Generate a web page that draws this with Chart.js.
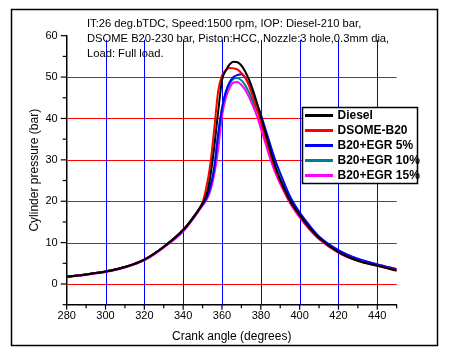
<!DOCTYPE html>
<html><head><meta charset="utf-8">
<script src="https://cdn.jsdelivr.net/npm/chart.js@4.4.1/dist/chart.umd.min.js"></script>
<style>html,body{margin:0;padding:0;background:#fff}</style>
</head><body>
<canvas id="c" width="452" height="356"></canvas>
<script>
// ---- data ----
const angles   = [280,290,300,310,320,330,340,345,350,352,354,356,358,360,362,364,366,368,370,372,374,376,378,380,382,384,386,388,390,395,400,405,410,420,430,440,450];
const diesel   = [1.8,2.3,3.0,4.1,5.9,9.0,13.1,16.0,19.5,21.5,26.0,33.0,41.5,49.2,51.6,53.1,53.7,53.6,52.8,51.3,49.3,46.8,43.8,40.5,37.2,33.8,30.5,27.6,25.2,20.2,16.7,13.6,11.1,7.7,5.6,4.4,3.2];
const dsomeB20 = [1.8,2.3,3.0,4.1,5.9,9.0,13.1,16.0,19.8,23.5,29.0,37.5,46.5,50.4,51.7,52.2,52.1,51.8,51.0,49.9,47.8,45.0,42.2,39.2,36.0,32.9,29.8,27.0,24.7,19.8,16.4,13.4,11.0,7.6,5.6,4.4,3.3];
const egr5     = [1.8,2.3,3.0,4.1,5.9,9.0,13.0,15.9,19.2,20.8,23.5,28.0,36.0,42.5,46.5,48.8,50.0,50.5,50.7,49.8,48.2,46.0,43.5,41.0,38.0,35.0,32.0,29.2,26.8,21.2,17.3,14.2,11.5,8.2,6.1,4.75,3.6];
const egr10    = [1.8,2.3,3.0,4.1,5.9,9.0,13.0,15.9,19.2,20.8,23.5,28.0,36.0,42.3,46.3,48.5,49.6,49.8,49.2,48.0,46.2,44.0,42.0,39.9,36.8,33.8,30.8,28.0,25.6,20.8,16.9,13.8,11.3,8.0,6.0,4.7,3.6];
const egr15    = [1.7,2.2,2.9,4.0,5.7,8.8,12.7,15.6,19.0,20.3,22.5,26.5,32.5,40.5,45.0,47.5,48.7,48.8,48.1,46.9,45.1,43.0,40.6,37.6,34.6,31.5,28.7,26.3,24.2,19.6,16.1,13.2,10.8,7.6,5.7,4.6,3.5];
const seriesNames  = ['Diesel','DSOME-B20','B20+EGR 5%','B20+EGR 10%','B20+EGR 15%'];
const seriesColors = ['#000000','#ff0000','#0000ff','#008080','#ff00ff'];
const xTickLabels = [280,300,320,340,360,380,400,420,440];
const yTickLabels = [0,10,20,30,40,50,60];
const noteLines = [
  'IT:26 deg.bTDC, Speed:1500 rpm, IOP: Diesel-210 bar,',
  'DSOME B20-230 bar, Piston:HCC, Nozzle:3 hole,0.3mm dia,',
  'Load: Full load.'
];
const xTitle = 'Crank angle (degrees)';
const yTitle = 'Cylinder pressure (bar)';

const allSeries = [diesel, dsomeB20, egr5, egr10, egr15];
const tickFont = {family:'"Liberation Sans", Arial, sans-serif', size:11};
const titleFont = {family:'"Liberation Sans", Arial, sans-serif', size:12};

const decor = {
  id:'decor',
  beforeDraw(chart){
    const ctx = chart.ctx;
    ctx.save();
    ctx.fillStyle='#fff'; ctx.fillRect(0,0,chart.width,chart.height);
    ctx.strokeStyle='#000'; ctx.lineWidth=1.5;
    ctx.strokeRect(11.5,9.5,426,336);
    ctx.restore();
  },
  beforeDatasetsDraw(chart){
    const {ctx, chartArea:a, scales:{x,y}} = chart;
    ctx.save(); ctx.lineWidth=1;
    ctx.strokeStyle='#ff0000';
    yTickLabels.slice(0,-1).forEach(v=>{
      const py=Math.round(y.getPixelForValue(v))+0.5;
      ctx.beginPath(); ctx.moveTo(a.left,py); ctx.lineTo(a.right,py); ctx.stroke();
    });
    ctx.strokeStyle='#0000ff';
    const top=y.getPixelForValue(59);
    xTickLabels.slice(1).forEach(v=>{
      const px=Math.round(x.getPixelForValue(v))+0.5;
      ctx.beginPath(); ctx.moveTo(px,a.bottom); ctx.lineTo(px,top); ctx.stroke();
    });
    ctx.restore();
  },
  afterDraw(chart){
    const {ctx, chartArea:a, scales:{x,y}} = chart;
    ctx.save();
    // tick marks
    ctx.strokeStyle='#000'; ctx.lineWidth=1.2;
    x.ticks.forEach(t=>{
      const px=x.getPixelForValue(t.value);
      const len = xTickLabels.includes(t.value) ? 5 : 3.5;
      ctx.beginPath(); ctx.moveTo(px,a.bottom); ctx.lineTo(px,a.bottom+len); ctx.stroke();
    });
    y.ticks.forEach(t=>{
      const py=y.getPixelForValue(t.value);
      const len = yTickLabels.includes(t.value) ? 6 : 4;
      ctx.beginPath(); ctx.moveTo(a.left,py); ctx.lineTo(a.left-len,py); ctx.stroke();
    });
    // annotation text
    ctx.fillStyle='#000';
    ctx.font='11.2px "Liberation Sans", Arial, sans-serif';
    ctx.textBaseline='alphabetic'; ctx.textAlign='left';
    noteLines.forEach((s,i)=>ctx.fillText(s,87,26.5+i*15));
    // legend
    ctx.fillStyle='#fff';
    ctx.fillRect(302.5,107.5,115,76);
    ctx.strokeStyle='#000'; ctx.lineWidth=1.5;
    ctx.strokeRect(302.5,107.5,115,76);
    ctx.font='bold 12px "Liberation Sans", Arial, sans-serif';
    ctx.textBaseline='middle';
    seriesNames.forEach((n,i)=>{
      const cy=115.5+i*15;
      ctx.strokeStyle=seriesColors[i]; ctx.lineWidth=3;
      ctx.beginPath(); ctx.moveTo(305,cy); ctx.lineTo(333,cy); ctx.stroke();
      ctx.fillStyle='#000'; ctx.fillText(n,337.5,cy+0.5);
    });
    ctx.restore();
  }
};

new Chart(document.getElementById('c'), {
  type:'line',
  data:{
    datasets: allSeries.map((arr,i)=>({
      label: seriesNames[i],
      data: angles.map((a,j)=>({x:a,y:arr[j]})),
      borderColor: seriesColors[i],
      borderWidth: 2,
      pointRadius: 0,
      fill:false,
      cubicInterpolationMode:'monotone'
    }))
  },
  options:{
    responsive:false,
    animation:false,
    devicePixelRatio:1,
    layout:{padding:{left:0,right:55.3,top:35.7,bottom:0}},
    plugins:{legend:{display:false},tooltip:{enabled:false}},
    scales:{
      x:{
        type:'linear', min:280, max:450,
        afterFit(s){ s.height = 51.3; },
        grid:{display:false, drawTicks:false},
        border:{display:true,color:'#000',width:1.5},
        ticks:{stepSize:10, autoSkip:false, maxRotation:0, color:'#000', font:tickFont, padding:5,
          callback:v=> xTickLabels.includes(v) ? String(v) : ''},
        title:{display:true,text:xTitle,color:'#000',font:titleFont,padding:{top:0,bottom:11.8}}
      },
      y:{
        min:-5, max:60,
        afterFit(s){ s.width = 66.7; },
        grid:{display:false, drawTicks:false},
        border:{display:true,color:'#000',width:1.5},
        ticks:{stepSize:5, autoSkip:false, color:'#000', font:tickFont, padding:9,
          callback:v=> yTickLabels.includes(v) ? String(v) : ''},
        title:{display:true,text:yTitle,color:'#000',font:titleFont,padding:{top:27.8,bottom:0}}
      }
    }
  },
  plugins:[decor]
});
</script>
</body></html>
